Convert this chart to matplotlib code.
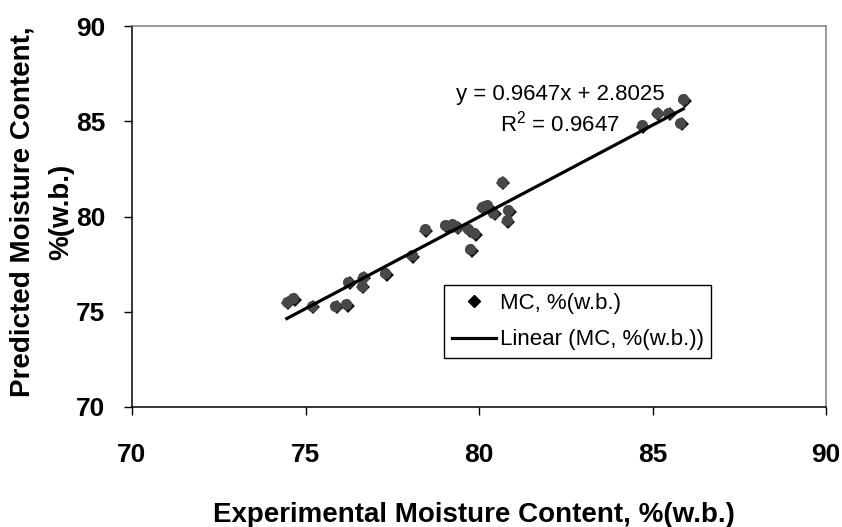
import numpy as np
import matplotlib
matplotlib.use("Agg")
from matplotlib import pyplot as plt
from matplotlib.lines import Line2D
from matplotlib import transforms

plt.rcParams['font.family'] = ['Liberation Sans', 'DejaVu Sans']
plt.rcParams['mathtext.fontset'] = 'custom'
plt.rcParams['mathtext.rm'] = 'Liberation Sans'
plt.rcParams['mathtext.it'] = 'Liberation Sans:italic'

# experimental vs predicted moisture content, %(w.b.)
mc_exp = [74.46, 74.64, 75.18, 75.85, 76.17, 76.23, 76.62, 76.65, 77.29, 78.06,
          78.44, 79.02, 79.21, 79.36, 79.69, 79.86, 79.74, 80.08, 80.22, 80.41,
          80.85, 80.80, 80.65, 84.69, 85.12, 85.46, 85.79, 85.89]
mc_pred = [75.52, 75.71, 75.31, 75.31, 75.38, 76.57, 76.36, 76.83, 77.01, 77.98,
           79.33, 79.55, 79.60, 79.46, 79.33, 79.12, 78.28, 80.52, 80.58, 80.20,
           80.34, 79.82, 81.83, 84.81, 85.46, 85.46, 84.93, 86.16]
slope, intercept = 0.9647, 2.8025
r2 = 0.9647
ticks = [70, 75, 80, 85, 90]

W, H = 842, 527
fig = plt.figure(figsize=(W / 100, H / 100), dpi=100)
ax = fig.add_axes([132 / W, 1 - 406.7 / H, 694 / W, 380.4 / H])

x = np.array(mc_exp)
y = np.array(mc_pred)
# shadow under each marker, a little down and right
shadow = transforms.offset_copy(ax.transData, fig=fig, x=1.6, y=-1.6, units='dots')
ax.plot(x, y, 'D', color='#151515', markersize=7.5, markeredgewidth=0,
        transform=shadow, zorder=2)
ax.plot(x, y, 'o', color='#484848', markersize=8, markeredgewidth=0, zorder=3)
xl = np.array([x.min(), x.max()])
ax.plot(xl, slope * xl + intercept, color='black', lw=2.3, zorder=4)

ax.set_xlim(70, 90)
ax.set_ylim(70, 90)
ax.set_xticks(ticks)
ax.set_yticks(ticks)
ax.tick_params(direction='out', length=6, width=1, labelsize=19, colors='black')
ax.tick_params(axis='x', pad=20)
ax.tick_params(axis='y', pad=13)
for lab in ax.get_xticklabels() + ax.get_yticklabels():
    lab.set_fontweight('bold')
for s in ['left', 'bottom']:
    ax.spines[s].set_color('black')
    ax.spines[s].set_linewidth(1.1)
for s in ['top', 'right']:
    ax.spines[s].set_color('#808080')
    ax.spines[s].set_linewidth(1.1)

ax.text(82.33, 86.12, 'y = %.4fx + %.4f' % (slope, intercept), fontsize=16,
        ha='center', va='baseline')
ax.text(82.33, 84.46, 'R$^2$ = %.4f' % r2, fontsize=16, ha='center', va='baseline')

handles = [Line2D([], [], marker='D', color='black', ls='none', markersize=6),
           Line2D([], [], color='black', lw=2.3)]
leg = ax.legend(handles, ['MC, %(w.b.)', 'Linear (MC, %(w.b.))'],
                loc='upper left', bbox_to_anchor=(0.4496, 0.32), borderaxespad=0,
                fontsize=16, frameon=True, fancybox=False, framealpha=1,
                edgecolor='black', handlelength=2.0, handletextpad=0.15,
                labelspacing=0.7, borderpad=0.35)
leg.get_frame().set_linewidth(1.0)

fig.text(474 / W, 1 - 521.5 / H, 'Experimental Moisture Content, %(w.b.)',
         fontsize=20, fontweight='bold', ha='center', va='baseline')
fig.text(42 / W, 1 - 212 / H, 'Predicted Moisture Content,\n%(w.b.)',
         fontsize=20, fontweight='bold', ha='center', va='center',
         rotation=90, multialignment='center', linespacing=1.6)

fig.savefig('out.png', dpi=100)
